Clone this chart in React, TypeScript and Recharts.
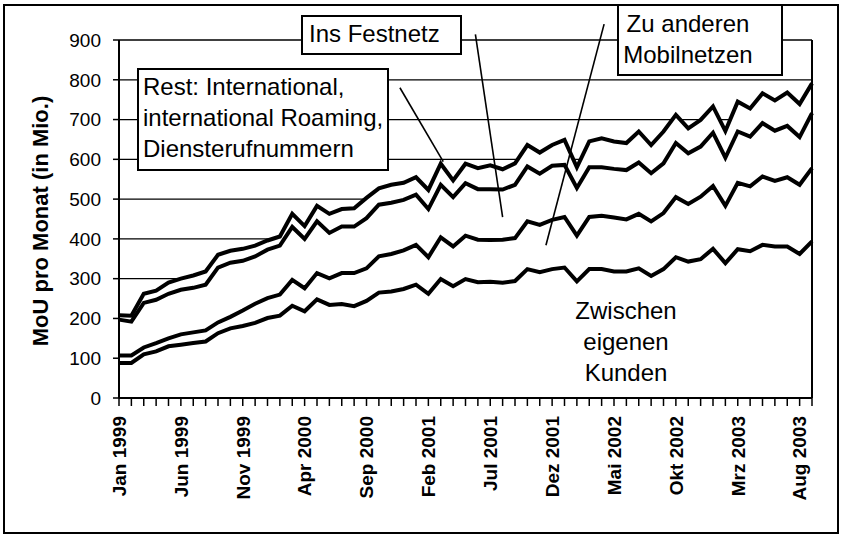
import React from 'react';
import {
  ComposedChart,
  Area,
  XAxis,
  YAxis,
  CartesianGrid,
  ReferenceLine,
} from 'recharts';

// Monate Jan 1999 - Sep 2003
const monate = [
  'Jan 1999', 'Feb 1999', 'Mrz 1999', 'Apr 1999', 'Mai 1999', 'Jun 1999', 'Jul 1999', 'Aug 1999', 'Sep 1999', 'Okt 1999', 'Nov 1999', 'Dez 1999',
  'Jan 2000', 'Feb 2000', 'Mrz 2000', 'Apr 2000', 'Mai 2000', 'Jun 2000', 'Jul 2000', 'Aug 2000', 'Sep 2000', 'Okt 2000', 'Nov 2000', 'Dez 2000',
  'Jan 2001', 'Feb 2001', 'Mrz 2001', 'Apr 2001', 'Mai 2001', 'Jun 2001', 'Jul 2001', 'Aug 2001', 'Sep 2001', 'Okt 2001', 'Nov 2001', 'Dez 2001',
  'Jan 2002', 'Feb 2002', 'Mrz 2002', 'Apr 2002', 'Mai 2002', 'Jun 2002', 'Jul 2002', 'Aug 2002', 'Sep 2002', 'Okt 2002', 'Nov 2002', 'Dez 2002',
  'Jan 2003', 'Feb 2003', 'Mrz 2003', 'Apr 2003', 'Mai 2003', 'Jun 2003', 'Jul 2003', 'Aug 2003', 'Sep 2003',
];

const tickLabels = [
  'Jan 1999', 'Jun 1999', 'Nov 1999', 'Apr 2000', 'Sep 2000', 'Feb 2001',
  'Jul 2001', 'Dez 2001', 'Mai 2002', 'Okt 2002', 'Mrz 2003', 'Aug 2003',
];

const yTicks = [0, 100, 200, 300, 400, 500, 600, 700, 800, 900];

// kumulierte Linien (MoU in Mio.)
const eigeneKunden = [
  88, 88, 110, 117, 130, 134, 138, 142, 163, 175, 181, 189, 201, 207, 232, 218, 248, 234, 236, 231,
  244, 265, 268, 274, 285, 262, 299, 281, 299, 291, 292, 290, 294, 324, 316, 324, 328, 293, 324, 324,
  318, 318, 326, 307, 324, 354, 343, 349, 375, 339, 374, 369, 385, 381, 381, 362, 394,
];
const bisMobilnetze = [
  107, 107, 127, 138, 150, 160, 165, 170, 190, 204, 220, 237, 251, 260, 297, 276, 314, 301, 314, 314,
  326, 356, 362, 371, 385, 354, 404, 381, 408, 398, 397, 398, 402, 444, 435, 448, 455, 408, 455, 458,
  454, 449, 463, 444, 465, 505, 488, 506, 533, 483, 541, 532, 557, 546, 555, 536, 578,
];
const bisFestnetz = [
  197, 192, 239, 247, 262, 272, 277, 285, 328, 340, 345, 356, 373, 383, 430, 400, 444, 415, 431, 431,
  452, 486, 491, 498, 511, 475, 536, 505, 540, 525, 525, 524, 536, 582, 564, 584, 586, 528, 580, 580,
  576, 573, 592, 565, 590, 641, 615, 632, 667, 604, 670, 657, 691, 672, 684, 656, 716,
];
const gesamt = [
  208, 207, 262, 270, 290, 300, 308, 318, 360, 370, 375, 383, 396, 406, 463, 432, 483, 463, 475, 477,
  503, 527, 536, 541, 555, 523, 589, 547, 589, 578, 585, 575, 590, 636, 617, 636, 649, 580, 645, 653,
  645, 641, 670, 636, 670, 712, 678, 699, 733, 671, 745, 728, 766, 748, 768, 739, 791,
];

const data = monate.map((monat, i) => ({
  idx: i,
  monat,
  eigene: eigeneKunden[i],
  mobil: bisMobilnetze[i],
  fest: bisFestnetz[i],
  rest: gesamt[i],
}));

const font = '"Liberation Sans", Arial, sans-serif';

const MonatTick = (props: any) => {
  const { x, y, payload } = props;
  const label = monate[payload.value];
  if (!tickLabels.includes(label)) return <g />;
  return (
    <text
      x={x}
      y={y}
      transform={`rotate(-90, ${x}, ${y})`}
      textAnchor="end"
      dy="0.36em"
      fontSize={19}
      fontWeight="bold"
      fontFamily={font}
      fill="#000"
    >
      {label}
    </text>
  );
};

const box: React.CSSProperties = {
  position: 'absolute',
  boxSizing: 'border-box',
  border: '2px solid #000',
  background: '#fff',
  fontSize: 24,
  lineHeight: '31px',
  color: '#000',
  whiteSpace: 'nowrap',
};

export default function App() {
  return (
    <div style={{ position: 'absolute', left: 0, top: 0, width: 843, height: 541, background: '#fff', fontFamily: font }}>
      <div style={{ position: 'absolute', left: 0, top: 0 }}>
        <ComposedChart
          width={843}
          height={541}
          data={data}
          margin={{ top: 40, right: 31, bottom: 0, left: 0 }}
        >
          <CartesianGrid horizontal vertical={false} stroke="#000" strokeWidth={1.3} />
          <XAxis
            type="number"
            dataKey="idx"
            domain={[0, 56]}
            ticks={data.map((d) => d.idx)}
            interval={0}
            height={143}
            tickSize={8}
            tickMargin={10}
            axisLine={{ stroke: '#000', strokeWidth: 2 }}
            tickLine={{ stroke: '#000', strokeWidth: 1.5 }}
            tick={<MonatTick />}
          />
          <YAxis
            domain={[0, 900]}
            ticks={yTicks}
            interval={0}
            width={119}
            tickSize={6}
            tickMargin={12}
            axisLine={{ stroke: '#000', strokeWidth: 2 }}
            tickLine={{ stroke: '#000', strokeWidth: 1.5 }}
            tick={{ fill: '#000', fontSize: 19, fontFamily: font }}
          />
          <ReferenceLine x={56} stroke="#000" strokeWidth={2} />
          <Area dataKey="rest" type="linear" stroke="#000" strokeWidth={4} fill="#fff" fillOpacity={1} isAnimationActive={false} />
          <Area dataKey="fest" type="linear" stroke="#000" strokeWidth={4} fill="#fff" fillOpacity={1} isAnimationActive={false} />
          <Area dataKey="mobil" type="linear" stroke="#000" strokeWidth={4} fill="#fff" fillOpacity={1} isAnimationActive={false} />
          <Area dataKey="eigene" type="linear" stroke="#000" strokeWidth={4} fill="#fff" fillOpacity={1} isAnimationActive={false} />
          <ReferenceLine segment={[{ x: 22.7, y: 780 }, { x: 26.2, y: 594 }]} stroke="#000" strokeWidth={1.6} ifOverflow="visible" />
          <ReferenceLine segment={[{ x: 28.8, y: 914 }, { x: 31.0, y: 455 }]} stroke="#000" strokeWidth={1.6} ifOverflow="visible" />
          <ReferenceLine segment={[{ x: 39.2, y: 940 }, { x: 34.5, y: 384 }]} stroke="#000" strokeWidth={1.6} ifOverflow="visible" />
        </ComposedChart>
      </div>

      <div style={{ position: 'absolute', left: 3, top: 4, width: 836, height: 530, border: '2px solid #000', boxSizing: 'border-box' }} />

      <div
        style={{
          position: 'absolute',
          left: 41,
          top: 221,
          transform: 'translate(-50%, -50%) rotate(-90deg)',
          fontSize: 22,
          fontWeight: 'bold',
          whiteSpace: 'nowrap',
          color: '#000',
        }}
      >
        MoU pro Monat (in Mio.)
      </div>

      <div style={{ ...box, left: 137, top: 68, width: 252, height: 103, padding: '1px 4px' }}>
        Rest: International,
        <br />
        international Roaming,
        <br />
        Diensterufnummern
      </div>

      <div style={{ ...box, left: 301, top: 15, width: 161, height: 40, padding: '1px 6px' }}>Ins Festnetz</div>

      <div style={{ ...box, left: 617, top: 4, width: 166, height: 72, padding: '2px 24px 2px 0', textAlign: 'center' }}>
        Zu anderen
        <br />
        Mobilnetzen
      </div>

      <div
        style={{
          position: 'absolute',
          left: 566,
          top: 295,
          width: 120,
          textAlign: 'center',
          fontSize: 24,
          lineHeight: '31px',
          color: '#000',
        }}
      >
        Zwischen
        <br />
        eigenen
        <br />
        Kunden
      </div>
    </div>
  );
}
